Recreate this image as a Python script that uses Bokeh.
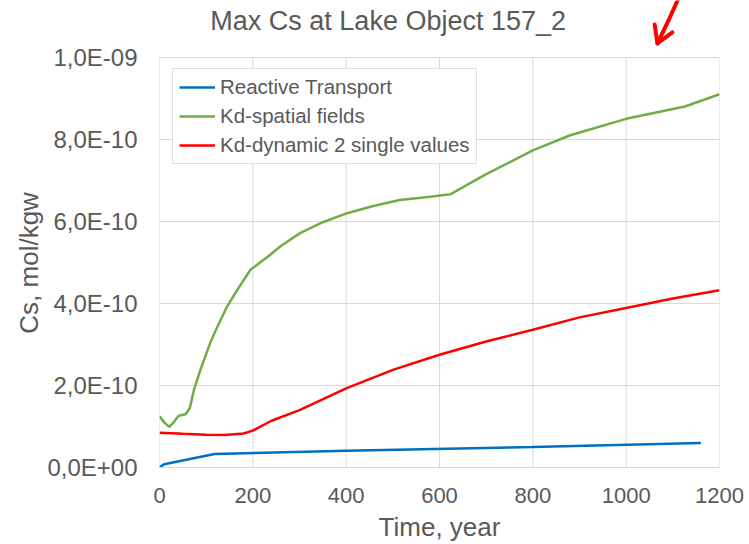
from bokeh.plotting import figure
from bokeh.models import (Range1d, FixedTicker, CustomJSTickFormatter, Legend, LegendItem)
from bokeh.core.properties import value
from bokeh.embed import file_html
from bokeh.resources import INLINE

title_text = "Max Cs at Lake Object 157_2"
x_label = "Time, year"
y_label = "Cs, mol/kgw"
series_names = ["Reactive Transport", "Kd-spatial fields", "Kd-dynamic 2 single values"]
series_colors = ["#0070c0", "#70ad47", "#ff0000"]

x_ticks = [0, 200, 400, 600, 800, 1000, 1200]
y_ticks = [0.0, 2e-10, 4e-10, 6e-10, 8e-10, 1e-9]

rt_time = [0, 10, 118, 400, 800, 1160]
rt_cs = [0.0, 0.08e-10, 0.33e-10, 0.41e-10, 0.50e-10, 0.60e-10]

sp_time = [0, 10, 21, 30, 41, 56, 65, 74, 88, 109, 124, 145, 165, 195, 231, 260, 302, 350,
           402, 460, 515, 580, 623, 700, 800, 880, 1000, 1126, 1200]
sp_cs = [1.25e-10, 1.10e-10, 0.99e-10, 1.10e-10, 1.26e-10, 1.30e-10, 1.45e-10, 1.90e-10, 2.39e-10,
         3.05e-10, 3.43e-10, 3.93e-10, 4.30e-10, 4.82e-10, 5.13e-10, 5.40e-10, 5.72e-10, 5.98e-10,
         6.20e-10, 6.38e-10, 6.52e-10, 6.60e-10, 6.66e-10, 7.15e-10, 7.73e-10, 8.10e-10, 8.50e-10,
         8.80e-10, 9.10e-10]

dy_time = [0, 50, 100, 140, 180, 200, 240, 300, 400, 500, 600, 700, 800, 900, 1000, 1100, 1200]
dy_cs = [0.85e-10, 0.82e-10, 0.80e-10, 0.79e-10, 0.83e-10, 0.90e-10, 1.14e-10, 1.40e-10, 1.93e-10,
         2.38e-10, 2.75e-10, 3.07e-10, 3.36e-10, 3.66e-10, 3.89e-10, 4.12e-10, 4.32e-10]

# the frame reaches the top of the page; the value axis only runs to 1e-9,
# the headroom above holds the title and the hand-drawn red pointer
y_axis_max = 1e-9
y_view_top = 1.1385e-9
title_anchor = (490, 1.0875e-9)
arrow_tip = (1067, 1.034e-9)
arrow_tail = (1110, 1.1385e-9)
arrow_mid = (1090, 1.088e-9)
arrow_wing_l = (1061, 1.080e-9)
arrow_wing_r = (1099, 1.061e-9)

TXT = "#595959"
FONT = "Liberation Sans"
GRID = "#d9d9d9"

p = figure(width=749, height=544, output_backend="svg", toolbar_location=None,
           x_range=Range1d(0, 1200), y_range=Range1d(0, y_view_top),
           min_border_left=159, min_border_right=30, min_border_top=0, min_border_bottom=76)
p.outline_line_color = None
p.background_fill_color = "white"

p.xaxis.ticker = FixedTicker(ticks=x_ticks)
p.yaxis.ticker = FixedTicker(ticks=y_ticks)
p.xgrid.visible = False
p.ygrid.ticker = FixedTicker(ticks=y_ticks)
p.ygrid.grid_line_color = GRID
p.ygrid.grid_line_width = 1
p.segment(x0=x_ticks, y0=[0] * len(x_ticks), x1=x_ticks, y1=[y_axis_max] * len(x_ticks),
          line_color=GRID, line_width=1)

p.yaxis.formatter = CustomJSTickFormatter(code="""
var s = tick.toExponential(1);
var parts = s.split('e');
var m = parts[0].replace('.', ',');
var e = parseInt(parts[1]);
var sign = e < 0 ? '-' : '+';
var a = Math.abs(e);
return m + 'E' + sign + (a < 10 ? '0' : '') + a;
""")

for ax in (p.xaxis[0], p.yaxis[0]):
    ax.major_tick_line_color = None
    ax.minor_tick_line_color = None
    ax.major_tick_out = 0
    ax.major_tick_in = 0
    ax.minor_tick_out = 0
    ax.minor_tick_in = 0
    ax.major_label_text_color = TXT
    ax.major_label_text_font = FONT
    ax.axis_label_text_color = TXT
    ax.axis_label_text_font = FONT
    ax.axis_label_text_font_style = "normal"
    ax.axis_label_text_font_size = "26px"

p.xaxis.axis_line_color = GRID
p.yaxis.axis_line_color = None
p.xaxis.major_label_text_font_size = "22px"
p.yaxis.major_label_text_font_size = "24px"
p.xaxis.major_label_standoff = 20
p.yaxis.major_label_standoff = 22
p.xaxis.axis_label = x_label
# trailing no-break spaces keep the label centred on the 0..1e-9 span rather than the full frame
p.yaxis.axis_label = y_label + "\u00a0" * 8
p.xaxis.axis_label_standoff = 6
p.yaxis.axis_label_standoff = 0

r1 = p.line(rt_time, rt_cs, line_color=series_colors[0], line_width=2.5)
r2 = p.line(sp_time, sp_cs, line_color=series_colors[1], line_width=2.5)
r3 = p.line(dy_time, dy_cs, line_color=series_colors[2], line_width=2.5)

legend = Legend(items=[LegendItem(label=series_names[0], renderers=[r1]),
                       LegendItem(label=series_names[1], renderers=[r2]),
                       LegendItem(label=series_names[2], renderers=[r3])],
                location=(13, 303))
legend.border_line_color = "#bfbfbf"
legend.border_line_width = 1
legend.background_fill_color = "white"
legend.background_fill_alpha = 1
legend.label_text_font = FONT
legend.label_text_font_size = "20.5px"
legend.label_text_color = TXT
legend.glyph_width = 36
legend.glyph_height = 20
legend.label_height = 20
legend.label_standoff = 5
legend.spacing = 5
legend.padding = 6
legend.margin = 0
p.add_layout(legend)

p.text(x=[title_anchor[0]], y=[title_anchor[1]], text=[title_text],
       text_font=value(FONT), text_font_size="27px", text_color=TXT,
       text_align="center", text_baseline="middle")

p.line([arrow_tail[0], arrow_mid[0], arrow_tip[0]], [arrow_tail[1], arrow_mid[1], arrow_tip[1]],
       line_color="#ff0000", line_width=4, line_cap="round", line_join="round")
p.line([arrow_wing_l[0], arrow_tip[0], arrow_wing_r[0]], [arrow_wing_l[1], arrow_tip[1], arrow_wing_r[1]],
       line_color="#ff0000", line_width=4, line_cap="round", line_join="round")

open("out.html", "w").write(file_html(p, INLINE))
